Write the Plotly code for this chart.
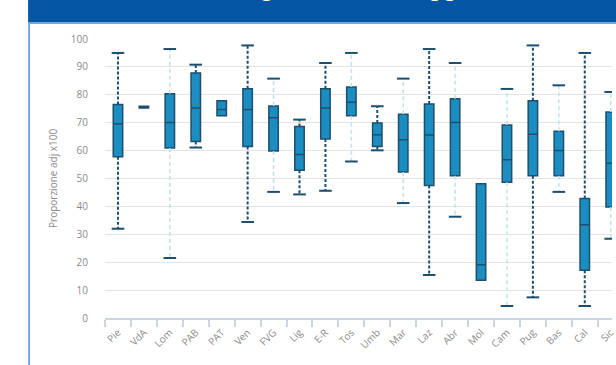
import plotly.graph_objects as go

# Regional distribution (adjusted proportion x100)
regions = ["Pie", "VdA", "Lom", "PAB", "PAT", "Ven", "FVG", "Lig", "E-R", "Tos",
           "Umb", "Mar", "Laz", "Abr", "Mol", "Cam", "Pug", "Bas", "Cal", "Sic"]
lower = [32.0, 75.3, 21.5, 61.1, 72.5, 34.4, 45.2, 44.3, 45.6, 56.1,
         60.1, 41.2, 15.4, 36.3, 13.5, 4.3, 7.4, 45.2, 4.3, 28.4]
q1 = [57.8, 75.3, 60.9, 63.3, 72.5, 61.5, 59.9, 53.0, 64.2, 72.5,
      61.5, 52.3, 47.5, 51.0, 13.5, 48.7, 51.0, 51.0, 17.1, 39.8]
median = [69.6, 75.6, 70.1, 75.3, 74.7, 74.7, 71.8, 58.6, 75.3, 77.3,
          65.7, 63.9, 65.6, 70.1, 19.1, 56.7, 65.9, 60.0, 33.4, 55.5]
q3 = [76.5, 75.9, 80.4, 87.8, 77.9, 82.2, 76.0, 68.6, 82.2, 82.8,
      69.9, 73.0, 76.7, 78.6, 48.1, 69.2, 77.9, 66.9, 42.8, 73.8]
upper = [95.0, 75.9, 96.4, 90.8, 77.9, 97.7, 85.8, 71.1, 91.4, 95.0,
         75.9, 85.8, 96.4, 91.4, 48.1, 82.1, 97.7, 83.4, 95.0, 81.0]
y_ticks = [0, 10, 20, 30, 40, 50, 60, 70, 80, 90, 100]

# whisker look per region: True = dark dotted, False = pale dashed
dark_whisker = [True, True, False, True, True, True, False, True, True, False,
                True, False, True, False, True, False, True, False, True, False]

FILL = "#1b8dc1"
EDGE = "#1d4f6c"
PALE = "#bfe2ee"
HEADER = "#0455a4"
FRAME = "#7aa5db"

W, H = 616, 365
ML, MR, MT, MB = 105, 0, 39, 47


def px(x):
    return (x - ML) / (W - ML - MR)


def py(y):
    return (H - MB - y) / (H - MT - MB)


fig = go.Figure()

# whiskers
for dark in (True, False):
    xs, ys = [], []
    for r, lo, a, b, hi, d in zip(regions, lower, q1, q3, upper, dark_whisker):
        if d != dark:
            continue
        if hi > b:
            xs += [r, r, None]
            ys += [b, hi, None]
        if lo < a:
            xs += [r, r, None]
            ys += [a, lo, None]
    fig.add_trace(go.Scatter(
        x=xs, y=ys, mode="lines", hoverinfo="skip", showlegend=False,
        line=dict(color=EDGE if dark else PALE, width=2 if dark else 1.5,
                  dash="3px,2px" if dark else "4px,3px"),
    ))

# boxes
fig.add_trace(go.Box(
    x=regions, q1=q1, median=median, q3=q3,
    lowerfence=q1, upperfence=q3,
    fillcolor=FILL, line=dict(color=EDGE, width=1.5),
    whiskerwidth=0, boxpoints=False, showlegend=False,
))

# whisker caps
cx, cy = [], []
for r, lo, a, b, hi in zip(regions, lower, q1, q3, upper):
    if hi > b:
        cx.append(r)
        cy.append(hi)
    if lo < a:
        cx.append(r)
        cy.append(lo)
fig.add_trace(go.Scatter(
    x=cx, y=cy, mode="markers", hoverinfo="skip", showlegend=False,
    marker=dict(symbol="line-ew", size=9, line=dict(color=EDGE, width=2)),
))

# panel header and frame
fig.add_shape(type="rect", xref="paper", yref="paper",
              x0=px(27.5), x1=px(700), y0=py(22.5), y1=py(-20),
              fillcolor=HEADER, line=dict(width=0), layer="above")
fig.add_shape(type="rect", xref="paper", yref="paper",
              x0=px(28.5), x1=px(720), y0=py(400), y1=py(23),
              fillcolor="rgba(0,0,0,0)", line=dict(color=FRAME, width=2),
              layer="above")

# panel title (sits mostly above the top edge of the page)
fig.add_annotation(
    text="Confronto regionale, dati aggiustati", showarrow=False,
    xref="paper", yref="paper", x=px(107), y=py(3),
    xanchor="left", yanchor="bottom",
    font=dict(family="Liberation Sans", size=27, color="white"),
)

fig.add_annotation(
    text="Proporzione adj x100", showarrow=False, textangle=-90,
    xref="paper", yref="paper", x=px(52), y=0.5,
    xanchor="center", yanchor="middle",
    font=dict(family="Open Sans", size=10, color="#8a8a8a"),
)

fig.update_layout(
    width=W, height=H,
    margin=dict(l=ML, r=MR, t=MT, b=MB),
    paper_bgcolor="white", plot_bgcolor="white",
    boxgap=0.48,
    font=dict(family="Open Sans", size=9, color="#8a8a8a"),
)
fig.update_xaxes(
    type="category", categoryorder="array", categoryarray=regions,
    range=[-0.5, 19.05], tickson="boundaries",
    ticks="outside", ticklen=7, tickwidth=1.5, tickcolor="#c9d5e0",
    showline=True, linecolor="#c9d5e0", linewidth=1.5,
    showgrid=False, tickangle=-45, ticklabelstandoff=3,
    tickfont=dict(family="Open Sans", size=10, color="#8a8a8a"),
)
fig.update_yaxes(
    range=[0, 100], tickvals=y_ticks, showline=False, zeroline=False,
    showgrid=True, gridcolor="#e3e3e3", gridwidth=1,
    ticklabelstandoff=16,
    tickfont=dict(family="Open Sans", size=10, color="#8a8a8a"),
)

fig.write_html("out.html")
